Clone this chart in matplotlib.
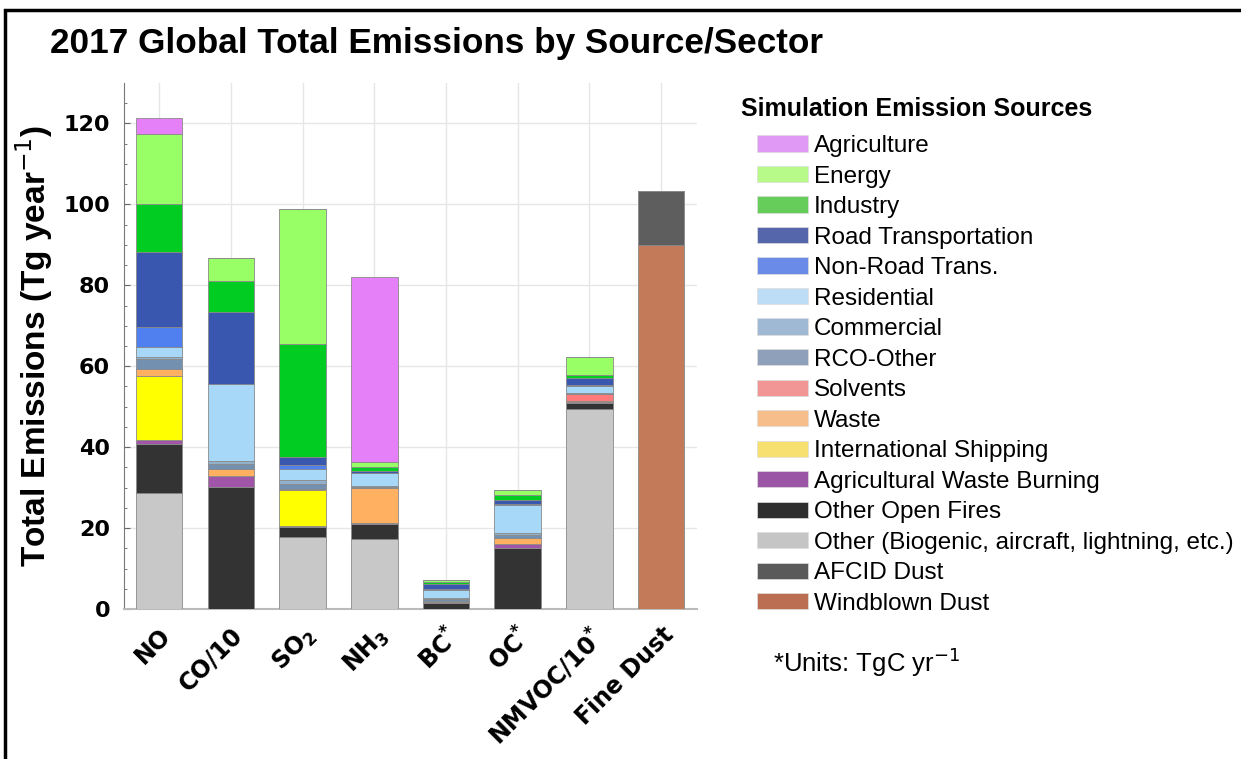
import numpy as np
import matplotlib
matplotlib.use('Agg')
import matplotlib.pyplot as plt
from matplotlib.patches import Patch, Rectangle

# Species on the x axis (CO and NMVOC scaled down by 10)
species = ['NO', 'CO/10', r'SO$_\mathbf{2}$', r'NH$_\mathbf{3}$',
           r'BC$^\mathbf{*}$', r'OC$^\mathbf{*}$', r'NMVOC/10$^\mathbf{*}$',
           'Fine Dust']

# Emissions per sector, Tg/yr (TgC/yr for BC, OC, NMVOC)
windblown = [0, 0, 0, 0, 0, 0, 0, 89.9]
afcid = [0, 0, 0, 0, 0, 0, 0, 13.3]
other = [28.7, 0, 17.7, 17.2, 0, 0, 49.4, 0]
open_fires = [12.2, 30.2, 2.5, 3.8, 1.4, 15.2, 1.4, 0]
ag_waste = [0.8, 2.8, 0.2, 0.3, 0.3, 0.8, 0.3, 0]
shipping = [16.0, 0, 9.0, 0, 0.1, 0, 0.1, 0]
waste = [1.6, 1.7, 0.2, 8.7, 0.25, 1.6, 0.3, 0]
solvents = [0, 0, 0, 0, 0, 0, 1.7, 0]
rco_other = [2.4, 1.2, 1.3, 0.2, 0.36, 0.7, 0.1, 0]
commercial = [0.6, 0.6, 1.0, 0.1, 0.3, 0.4, 0.2, 0]
residential = [2.5, 19.0, 2.7, 3.3, 2.0, 7.1, 1.6, 0]
non_road = [4.8, 0.1, 1.1, 0.1, 0.16, 0.1, 0.2, 0]
road = [18.6, 17.8, 1.9, 0.3, 1.2, 1.1, 1.8, 0]
industry = [12.0, 7.7, 28.0, 1.2, 0.65, 1.2, 0.7, 0]
energy = [17.2, 5.7, 33.2, 1.1, 0.55, 1.3, 4.5, 0]
agriculture = [3.9, 0, 0, 45.7, 0, 0, 0, 0]

# (label, values, bar colour, legend colour), bottom of the stack first
sectors = [
    ('Windblown Dust', windblown, '#C27A58', '#BC6E52'),
    ('AFCID Dust', afcid, '#5E5E5E', '#5A5A5A'),
    ('Other (Biogenic, aircraft, lightning, etc.)', other, '#C8C8C8', '#C5C5C5'),
    ('Other Open Fires', open_fires, '#333333', '#2E2E2E'),
    ('Agricultural Waste Burning', ag_waste, '#A055A8', '#9A55A5'),
    ('International Shipping', shipping, '#FFFF00', '#F8E070'),
    ('Waste', waste, '#FFB060', '#F5BE8A'),
    ('Solvents', solvents, '#FF7A7A', '#F29595'),
    ('RCO-Other', rco_other, '#7390B0', '#8FA0BA'),
    ('Commercial', commercial, '#90B0CC', '#9FB8D3'),
    ('Residential', residential, '#A8D8F8', '#BDDDF7'),
    ('Non-Road Trans.', non_road, '#5080F0', '#6B8BE8'),
    ('Road Transportation', road, '#3A57B0', '#5566AA'),
    ('Industry', industry, '#00CC22', '#66CC5A'),
    ('Energy', energy, '#99FF66', '#B8FA8A'),
    ('Agriculture', agriculture, '#E680F8', '#E09AF5'),
]

fig = plt.figure(figsize=(12.41, 7.59), dpi=100)
ax = fig.add_axes([0.0999, 0.1976, 0.4617, 0.693])

x = np.arange(len(species))
bottom = np.zeros(len(species))
for label, vals, col, _ in sectors:
    vals = np.array(vals, dtype=float)
    ax.bar(x, vals, width=0.65, bottom=bottom, color=col,
           edgecolor='#8a8a8a', linewidth=0.6, zorder=3)
    bottom += vals

ax.set_xlim(-0.49, 7.5)
ax.set_ylim(0, 130)
ax.set_yticks(np.arange(0, 121, 20))
ax.set_yticks(np.arange(0, 130, 5), minor=True)
ax.set_xticks(x)
ax.set_xticklabels(species, rotation=45, ha='right', rotation_mode='anchor',
                   fontsize=17, fontweight='bold', family='DejaVu Sans')
for lab in ax.get_yticklabels():
    lab.set_fontsize(16)
    lab.set_fontweight('bold')
ax.tick_params(axis='x', length=0, pad=10)
ax.tick_params(axis='y', which='major', direction='in', length=4,
               color='#666666', pad=10)
ax.tick_params(axis='y', which='minor', direction='in', length=2,
               color='#666666')
ax.grid(True, color='#e6e6e6', linewidth=1.0, zorder=0)
ax.set_axisbelow(True)
for side in ['top', 'right']:
    ax.spines[side].set_visible(False)
ax.spines['left'].set_color('#777777')
ax.spines['bottom'].set_color('#bbbbbb')
ax.spines['bottom'].set_linewidth(1.5)

ax.set_ylabel(r'Total Emissions (Tg year$^{-1}$)', fontsize=24,
              fontweight='bold', family='Liberation Sans', labelpad=6)

fig.text(0.040, 0.943, '2017 Global Total Emissions by Source/Sector',
         fontsize=25.3, fontweight='bold', family='Liberation Sans',
         va='center', ha='left')

# Legend heading, then the entries indented below it (top entry first)
fig.text(0.597, 0.857, 'Simulation Emission Sources', fontsize=18,
         fontweight='bold', family='Liberation Sans', va='center')
handles = [Patch(facecolor=leg, edgecolor='#dddddd', linewidth=0.5,
                 label=label) for label, _, _, leg in sectors[::-1]]
leg = fig.legend(handles=handles, loc='upper left',
                 bbox_to_anchor=(0.610, 0.822), frameon=False,
                 prop={'family': 'Liberation Sans', 'size': 17.5},
                 handlelength=2.1, handleheight=0.65, handletextpad=0.25,
                 labelspacing=0.35, borderaxespad=0, borderpad=0)

fig.text(0.623, 0.127, r'*Units: TgC yr$^{-1}$', fontsize=18.5,
         family='Liberation Sans', va='center')

# Outer frame
fig.patches.append(Rectangle((5 / 1241, -0.1), 1.2, 1.1 - 10 / 759,
                             transform=fig.transFigure, fill=False,
                             edgecolor='black', linewidth=2.5))

fig.savefig('out.png', dpi=100)
